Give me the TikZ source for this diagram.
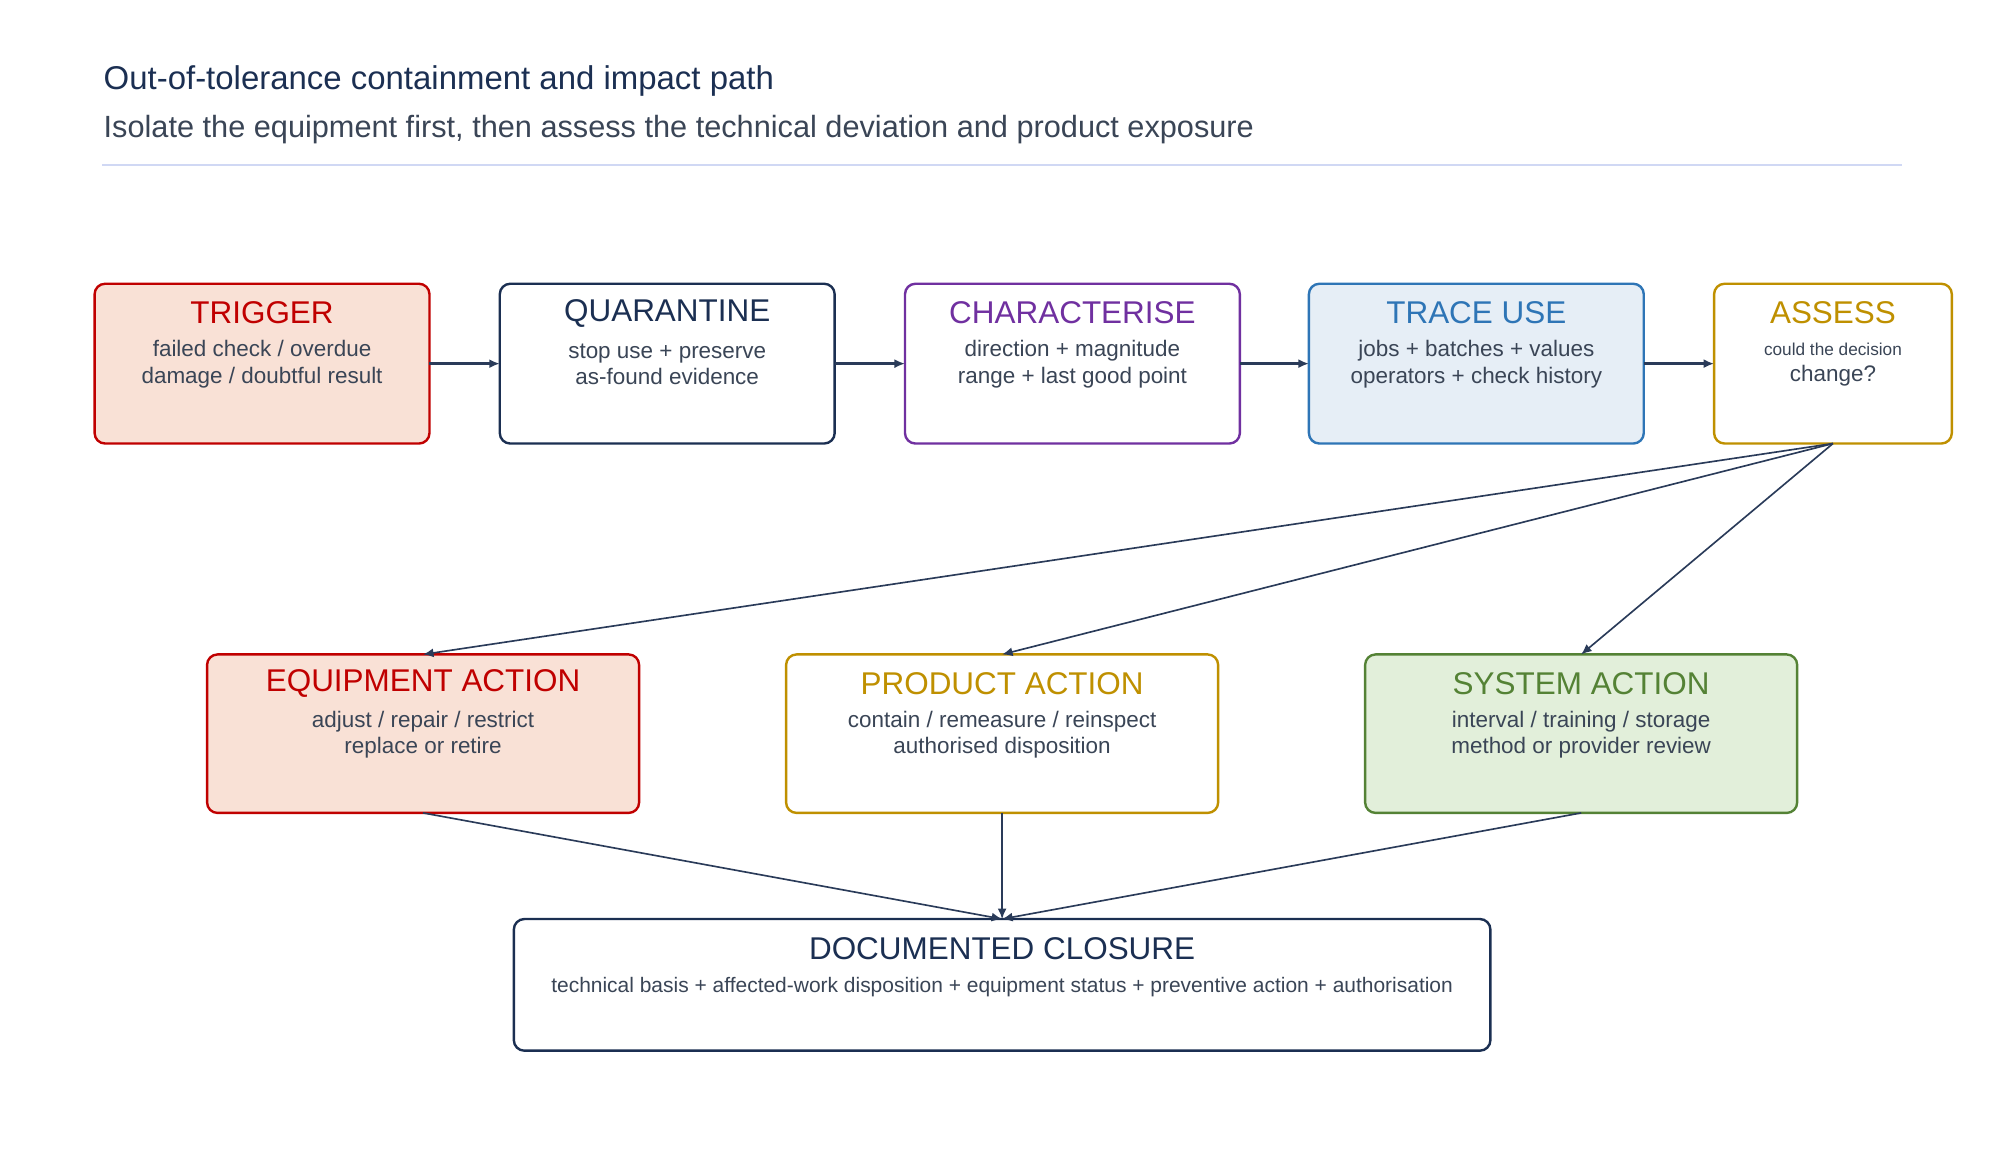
\documentclass[tikz,border=0pt]{standalone}
\usepackage{fontspec}
\setmainfont{Liberation Sans}
\usetikzlibrary{arrows.meta}
\definecolor{navy}{HTML}{1B2F52}
\definecolor{txt}{HTML}{3A4556}
\definecolor{cred}{HTML}{C00000}
\definecolor{fred}{HTML}{F9E1D6}
\definecolor{cpur}{HTML}{7030A0}
\definecolor{cblue}{HTML}{2E75B6}
\definecolor{fblue}{HTML}{E6EEF6}
\definecolor{cgold}{HTML}{BF9000}
\definecolor{cgreen}{HTML}{548235}
\definecolor{fgreen}{HTML}{E2EFDA}
\definecolor{rule}{HTML}{D0D8F4}
\begin{document}
\begin{tikzpicture}[x=0.03cm,y=-0.03cm,
 box/.style={draw,line width=1.6pt,rounded corners=7pt,fill=white},
 hd/.style={font=\fontsize{21}{24}\selectfont,anchor=center},
 bd/.style={font=\fontsize{15}{17.5}\selectfont,text=txt,align=center,anchor=center},
 arr/.style={draw=navy!85!gray,line width=1.1pt,-{Latex[length=7pt,width=6pt]}},
 arrb/.style={arr,line width=1.8pt}]
\useasboundingbox (0,0) rectangle (1560,908);
\node[anchor=west,text=navy,font=\fontsize{22}{26}\selectfont] (t) at (77,63) {Out-of-tolerance containment and impact path};
\node[anchor=west,text=txt,font=\fontsize{20.5}{24}\selectfont] (s) at (77,101) {Isolate the equipment first, then assess the technical deviation and product exposure};
\draw[rule,line width=1pt] (80,129) -- (1488,129);
\newcommand{\bx}[9]{%
 \draw[box,draw=#6,fill=#7] (#2,#3) rectangle (#4,#5);
 \node[hd,text=#6] (#1h) at ({(#2+#4)/2},{#3+23}) {#8};
 \node[bd] (#1b) at ({(#2+#4)/2},{#3+63}) {#9};
 \coordinate (#1) at ({(#2+#4)/2},{(#3+#5)/2});
 \coordinate (#1t) at ({(#2+#4)/2},#3);
 \coordinate (#1s) at ({(#2+#4)/2},#5);
 \coordinate (#1w) at (#2,{(#3+#5)/2});
 \coordinate (#1e) at (#4,{(#3+#5)/2});}
\bx{a}{74}{222}{336}{347}{cred}{fred}{TRIGGER}{failed check / overdue\\damage / doubtful result}
\bx{b}{391}{222}{653}{347}{navy}{white}{QUARANTINE}{stop use + preserve\\as-found evidence}
\bx{c}{708}{222}{970}{347}{cpur}{white}{CHARACTERISE}{direction + magnitude\\range + last good point}
\bx{d}{1024}{222}{1286}{347}{cblue}{fblue}{TRACE USE}{jobs + batches + values\\operators + check history}
\bx{e}{1341}{222}{1527}{347}{cgold}{white}{ASSESS}{{\fontsize{11.5}{17.5}\selectfont could the decision}\\change?}
\bx{f}{162}{512}{500}{636}{cred}{fred}{EQUIPMENT ACTION}{adjust / repair / restrict\\replace or retire}
\bx{g}{615}{512}{953}{636}{cgold}{white}{PRODUCT ACTION}{contain / remeasure / reinspect\\authorised disposition}
\bx{h}{1068}{512}{1406}{636}{cgreen}{fgreen}{SYSTEM ACTION}{interval / training / storage\\method or provider review}
\draw[box,draw=navy] (402,719) rectangle (1166,822);
\node[hd,text=navy] (ih) at (784,742) {DOCUMENTED CLOSURE};
\node[bd,font=\fontsize{14}{16}\selectfont] (ib) at (784,772) {technical basis + affected-work disposition + equipment status + preventive action + authorisation};
\coordinate (it) at (784,719);
\draw[arrb] (ae) -- (bw);
\draw[arrb] (be) -- (cw);
\draw[arrb] (ce) -- (dw);
\draw[arrb] (de) -- (ew);
\draw[arr] (es) -- (ft);
\draw[arr] (es) -- (gt);
\draw[arr] (es) -- (ht);
\draw[arr] (fs) -- (it);
\draw[arr] (gs) -- (it);
\draw[arr] (hs) -- (it);
\end{tikzpicture}
\end{document}
